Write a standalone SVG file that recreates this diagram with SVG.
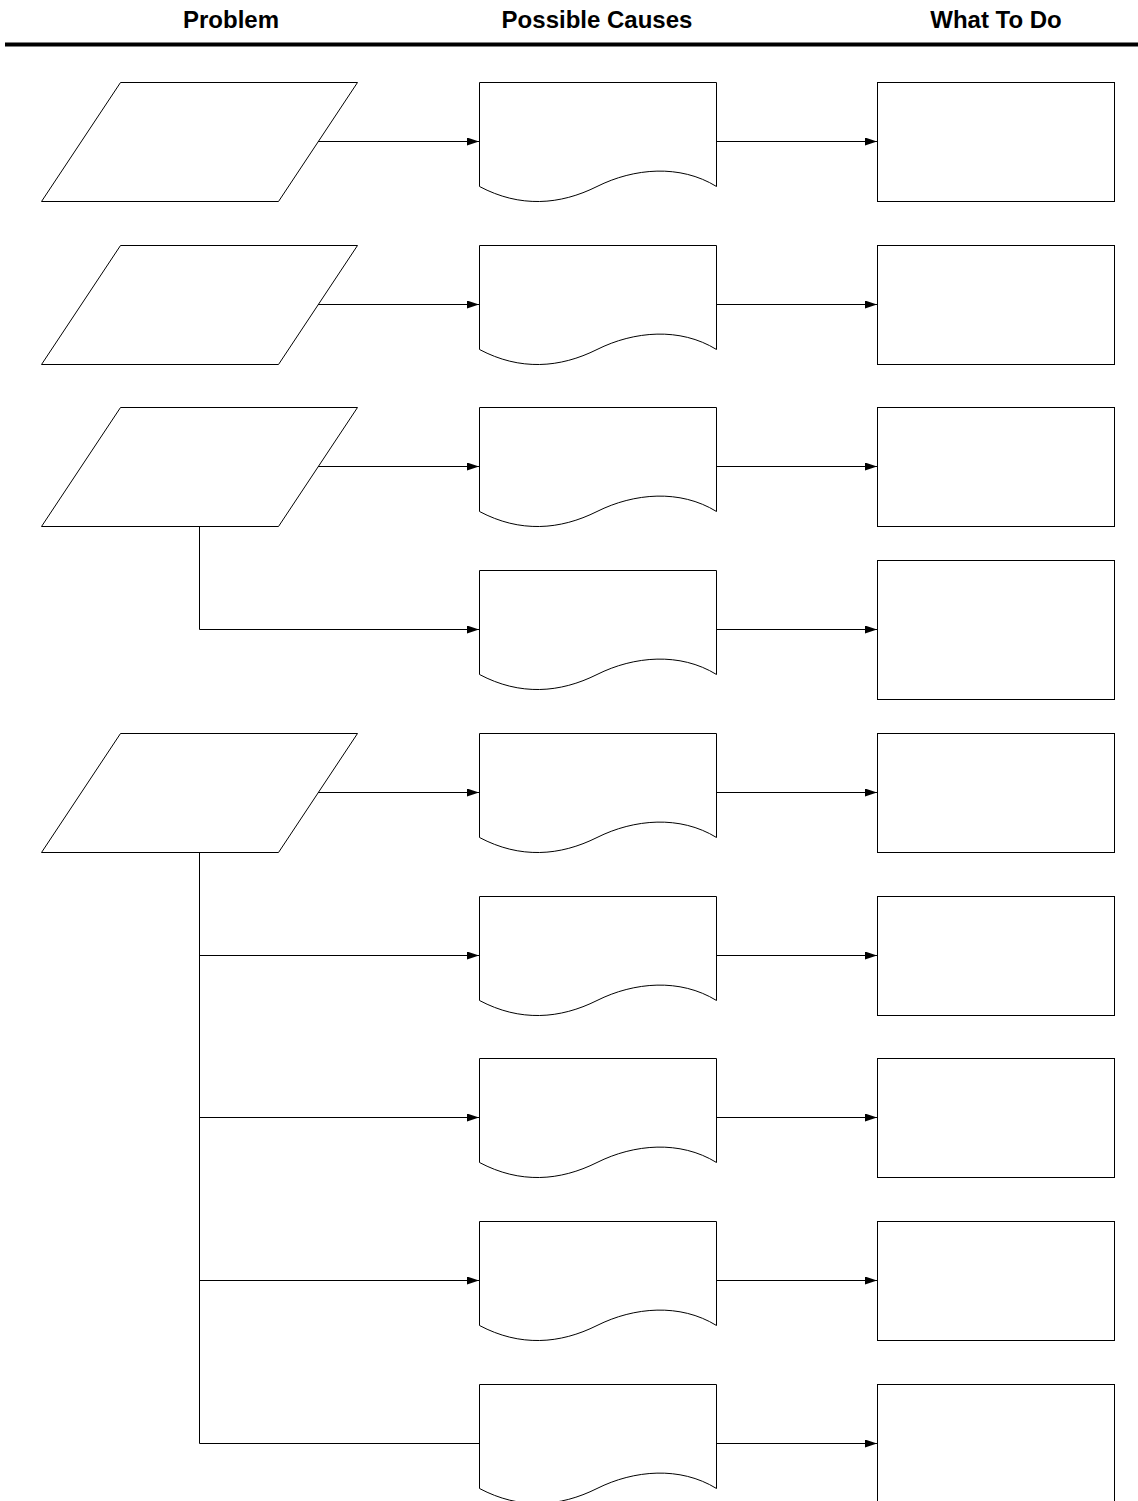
<svg xmlns="http://www.w3.org/2000/svg" xmlns:xlink="http://www.w3.org/1999/xlink" width="1138" height="1501" viewBox="0 0 1138 1501">
<style>
.hdr{font-family:"Liberation Sans",Arial,sans-serif;font-weight:bold;font-size:24px;fill:#000;text-anchor:middle}
.shape{fill:#fff;stroke:#000;stroke-width:1}
.conn{fill:none;stroke:#000;stroke-width:1}
</style>
<defs>
<marker id="arr" markerUnits="userSpaceOnUse" markerWidth="12" markerHeight="8" refX="12" refY="4" orient="auto">
<path d="M0,0 L12,4 L0,8 Z" fill="#000"/>
</marker>
<path id="para" d="M120.5,0.5 H357.5 L278.5,119.5 H41.5 Z"/>
<path id="doc" d="M479.5,0.5 H716.5 V104.5 C680,82 634,86 597,104.5 C560,123 520,126 479.5,104.5 Z"/>
</defs>
<rect width="1138" height="1501" fill="#fff"/>
<g id="header">
<text class="hdr" x="231" y="28">Problem</text>
<text class="hdr" x="597" y="28">Possible Causes</text>
<text class="hdr" x="996" y="28">What To Do</text>
<line x1="5" y1="44.5" x2="1138" y2="44.5" stroke="#000" stroke-width="4"/>
</g>
<g id="problem1"><use xlink:href="#para" class="shape" y="82"/></g>
<g id="problem2"><use xlink:href="#para" class="shape" y="245"/></g>
<g id="problem3"><use xlink:href="#para" class="shape" y="407"/></g>
<g id="problem4"><use xlink:href="#para" class="shape" y="733"/></g>
<g id="cause1"><use xlink:href="#doc" class="shape" y="82"/></g>
<g id="cause2"><use xlink:href="#doc" class="shape" y="245"/></g>
<g id="cause3"><use xlink:href="#doc" class="shape" y="407"/></g>
<g id="cause4"><use xlink:href="#doc" class="shape" y="570"/></g>
<g id="cause5"><use xlink:href="#doc" class="shape" y="733"/></g>
<g id="cause6"><use xlink:href="#doc" class="shape" y="896"/></g>
<g id="cause7"><use xlink:href="#doc" class="shape" y="1058"/></g>
<g id="cause8"><use xlink:href="#doc" class="shape" y="1221"/></g>
<g id="cause9"><use xlink:href="#doc" class="shape" y="1384"/></g>
<g id="action1"><rect class="shape" x="877.5" y="82.5" width="237" height="119"/></g>
<g id="action2"><rect class="shape" x="877.5" y="245.5" width="237" height="119"/></g>
<g id="action3"><rect class="shape" x="877.5" y="407.5" width="237" height="119"/></g>
<g id="action4"><rect class="shape" x="877.5" y="560.5" width="237" height="139"/></g>
<g id="action5"><rect class="shape" x="877.5" y="733.5" width="237" height="119"/></g>
<g id="action6"><rect class="shape" x="877.5" y="896.5" width="237" height="119"/></g>
<g id="action7"><rect class="shape" x="877.5" y="1058.5" width="237" height="119"/></g>
<g id="action8"><rect class="shape" x="877.5" y="1221.5" width="237" height="119"/></g>
<g id="action9"><rect class="shape" x="877.5" y="1384.5" width="237" height="200"/></g>
<g id="connectors">
<line class="conn" x1="318" y1="141.5" x2="479" y2="141.5" marker-end="url(#arr)"/>
<line class="conn" x1="318" y1="304.5" x2="479" y2="304.5" marker-end="url(#arr)"/>
<line class="conn" x1="318" y1="466.5" x2="479" y2="466.5" marker-end="url(#arr)"/>
<polyline class="conn" points="199.5,527 199.5,629.5 479,629.5" marker-end="url(#arr)"/>
<line class="conn" x1="318" y1="792.5" x2="479" y2="792.5" marker-end="url(#arr)"/>
<line class="conn" x1="199.5" y1="853" x2="199.5" y2="1443.5"/>
<line class="conn" x1="199.5" y1="955.5" x2="479" y2="955.5" marker-end="url(#arr)"/>
<line class="conn" x1="199.5" y1="1117.5" x2="479" y2="1117.5" marker-end="url(#arr)"/>
<line class="conn" x1="199.5" y1="1280.5" x2="479" y2="1280.5" marker-end="url(#arr)"/>
<line class="conn" x1="199.5" y1="1443.5" x2="479" y2="1443.5"/>
<line class="conn" x1="717" y1="141.5" x2="877" y2="141.5" marker-end="url(#arr)"/>
<line class="conn" x1="717" y1="304.5" x2="877" y2="304.5" marker-end="url(#arr)"/>
<line class="conn" x1="717" y1="466.5" x2="877" y2="466.5" marker-end="url(#arr)"/>
<line class="conn" x1="717" y1="629.5" x2="877" y2="629.5" marker-end="url(#arr)"/>
<line class="conn" x1="717" y1="792.5" x2="877" y2="792.5" marker-end="url(#arr)"/>
<line class="conn" x1="717" y1="955.5" x2="877" y2="955.5" marker-end="url(#arr)"/>
<line class="conn" x1="717" y1="1117.5" x2="877" y2="1117.5" marker-end="url(#arr)"/>
<line class="conn" x1="717" y1="1280.5" x2="877" y2="1280.5" marker-end="url(#arr)"/>
<line class="conn" x1="717" y1="1443.5" x2="877" y2="1443.5" marker-end="url(#arr)"/>
</g>
</svg>
